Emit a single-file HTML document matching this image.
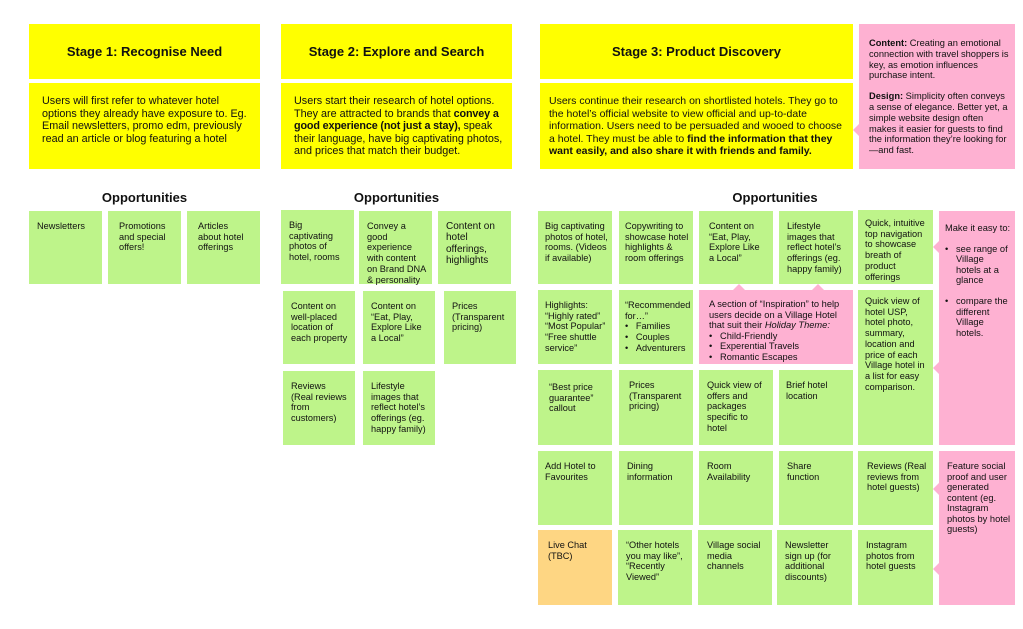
<!DOCTYPE html>
<html><head><meta charset="utf-8"><style>
body{margin:0;width:1023px;height:629px;background:#fff;position:relative;overflow:hidden;font-family:"Liberation Sans",Arial,sans-serif;color:#111}
.b{position:absolute;box-sizing:border-box}
.y{background:#ffff00}
.g{background:#bef48a;font-size:9.2px;line-height:10.7px;padding:10px 6px 0 8px}
.p{background:#feb1d2}
.o{background:#fed683;font-size:9.2px;line-height:10.7px;padding:10px 6px 0 8px}
.h{font-weight:bold;font-size:13px;display:flex;align-items:center;justify-content:center}
.d{font-size:10.8px;line-height:12.5px;padding:12px 10px 0 13px}
.op{position:absolute;font-weight:bold;font-size:13px;text-align:center}
ul{margin:0;padding:0 0 0 14px}
li{margin:0}
.tri{position:absolute;width:0;height:0;border-top:6px solid transparent;border-bottom:6px solid transparent;border-right:6px solid #feb1d2}
.triu{position:absolute;width:0;height:0;border-left:6px solid transparent;border-right:6px solid transparent;border-bottom:6px solid #feb1d2}
</style></head><body>
<!-- Stage 1 -->
<div class="b y h" style="left:29px;top:24px;width:231px;height:55px">Stage 1: Recognise Need</div>
<div class="b y d" style="left:29px;top:83px;width:231px;height:86px;padding-right:12px">Users will first refer to whatever hotel options they already have exposure to. Eg. Email newsletters, promo edm, previously read an article or blog featuring a hotel</div>
<div class="op" style="left:29px;top:190px;width:231px">Opportunities</div>
<div class="b g" style="left:29px;top:211px;width:73px;height:73px">Newsletters</div>
<div class="b g" style="left:108px;top:211px;width:73px;height:73px;padding-left:11px">Promotions and special offers!</div>
<div class="b g" style="left:187px;top:211px;width:73px;height:73px;padding-left:11px;padding-right:8px">Articles about hotel offerings</div>

<!-- Stage 2 -->
<div class="b y h" style="left:281px;top:24px;width:231px;height:55px">Stage 2: Explore and Search</div>
<div class="b y d" style="left:281px;top:83px;width:231px;height:86px;padding-right:8px">Users start their research of hotel options. They are attracted to brands that <b style="letter-spacing:-0.15px">convey a good experience (not just a stay),</b> speak their language, have big captivating photos, and prices that match their budget.</div>
<div class="op" style="left:281px;top:190px;width:231px">Opportunities</div>
<div class="b g" style="left:281px;top:210px;width:73px;height:74px">Big captivating photos of hotel, rooms</div>
<div class="b g" style="left:359px;top:211px;width:73px;height:73px;padding-right:5px">Convey a good experience with content on Brand DNA &amp; personality</div>
<div class="b g" style="left:438px;top:211px;width:73px;height:73px;font-size:10px;line-height:11.4px">Content on hotel offerings, highlights</div>
<div class="b g" style="left:283px;top:291px;width:72px;height:73px">Content on well-placed location of each property</div>
<div class="b g" style="left:363px;top:291px;width:72px;height:73px">Content on “Eat, Play, Explore Like a Local”</div>
<div class="b g" style="left:444px;top:291px;width:72px;height:73px">Prices (Transparent pricing)</div>
<div class="b g" style="left:283px;top:371px;width:72px;height:74px">Reviews (Real reviews from customers)</div>
<div class="b g" style="left:363px;top:371px;width:72px;height:74px">Lifestyle images that reflect hotel’s offerings (eg. happy family)</div>

<!-- Stage 3 -->
<div class="b y h" style="left:540px;top:24px;width:313px;height:55px">Stage 3: Product Discovery</div>
<div class="b y d" style="left:540px;top:83px;width:313px;height:86px;padding-left:9px;padding-right:4px;font-size:10.5px">Users continue their research on shortlisted hotels. They go to the hotel’s official website to view official and up-to-date information. Users need to be persuaded and wooed to choose a hotel. They must be able to <b>find the information that they want easily, and also share it with friends and family.</b></div>
<div class="b p" style="left:859px;top:24px;width:156px;height:145px;font-size:9.3px;line-height:10.8px;padding:14px 5px 0 10px">
<div><b>Content:</b> Creating an emotional connection with travel shoppers is key, as emotion influences purchase intent.</div>
<div style="margin-top:10px"><b>Design:</b> Simplicity often conveys a sense of elegance. Better yet, a simple website design often makes it easier for guests to find the information they’re looking for—and fast.</div></div>
<div class="tri" style="left:853px;top:124px"></div>
<div class="op" style="left:700px;top:190px;width:150px">Opportunities</div>

<div class="b g" style="left:538px;top:211px;width:74px;height:73px;padding-left:7px;padding-right:4px">Big captivating photos of hotel, rooms. (Videos if available)</div>
<div class="b g" style="left:619px;top:211px;width:74px;height:73px;padding-left:6px;padding-right:2px">Copywriting to showcase hotel highlights &amp; room offerings</div>
<div class="b g" style="left:699px;top:211px;width:74px;height:73px;padding-left:10px">Content on “Eat, Play, Explore Like a Local”</div>
<div class="b g" style="left:779px;top:211px;width:74px;height:73px">Lifestyle images that reflect hotel’s offerings (eg. happy family)</div>
<div class="b g" style="left:858px;top:210px;width:75px;height:74px;padding-top:8px;padding-left:7px">Quick, intuitive top navigation to showcase breath of product offerings</div>
<div class="b p" style="left:939px;top:211px;width:76px;height:234px;font-size:9.3px;line-height:10.6px;padding:12px 4px 0 6px">Make it easy to:
<ul style="margin-top:10px;padding-left:0;list-style:none"><li style="position:relative;padding-left:11px"><span style="position:absolute;left:0">•</span>see range of Village hotels at a glance</li><li style="position:relative;padding-left:11px;margin-top:10px"><span style="position:absolute;left:0">•</span>compare the different Village hotels.</li></ul></div>
<div class="tri" style="left:933px;top:241px"></div>

<div class="b g" style="left:538px;top:290px;width:74px;height:74px;padding-left:7px;padding-right:1px">Highlights:<br>“Highly rated”<br>“Most Popular”<br>“Free shuttle service”</div>
<div class="b g" style="left:619px;top:290px;width:74px;height:74px;padding-left:6px;padding-right:1px">“Recommended for…”<ul style="list-style:none;padding-left:0"><li>•&nbsp;&nbsp;&nbsp;Families</li><li>•&nbsp;&nbsp;&nbsp;Couples</li><li>•&nbsp;&nbsp;&nbsp;Adventurers</li></ul></div>
<div class="b p" style="left:699px;top:290px;width:154px;height:74px;font-size:9.3px;line-height:10.5px;padding:9px 10px 0 10px">A section of “Inspiration” to help users decide on a Village Hotel that suit their <i>Holiday Theme:</i><ul style="list-style:none;padding-left:0"><li>•&nbsp;&nbsp;&nbsp;Child-Friendly</li><li>•&nbsp;&nbsp;&nbsp;Experential Travels</li><li>•&nbsp;&nbsp;&nbsp;Romantic Escapes</li></ul></div>
<div class="triu" style="left:733px;top:284px"></div>
<div class="triu" style="left:812px;top:284px"></div>
<div class="b g" style="left:858px;top:290px;width:75px;height:155px;padding-top:6px;padding-left:7px">Quick view of hotel USP, hotel photo, summary, location and price of each Village hotel in a list for easy comparison.</div>
<div class="tri" style="left:933px;top:362px"></div>

<div class="b g" style="left:538px;top:370px;width:74px;height:75px;padding-left:11px;padding-top:12px">“Best price guarantee” callout</div>
<div class="b g" style="left:619px;top:370px;width:74px;height:75px;padding-left:10px">Prices (Transparent pricing)</div>
<div class="b g" style="left:699px;top:370px;width:74px;height:75px">Quick view of offers and packages specific to hotel</div>
<div class="b g" style="left:779px;top:370px;width:74px;height:75px;padding-left:7px">Brief hotel location</div>

<div class="b g" style="left:538px;top:451px;width:74px;height:74px;padding-left:7px">Add Hotel to Favourites</div>
<div class="b g" style="left:619px;top:451px;width:74px;height:74px;padding-left:8px">Dining information</div>
<div class="b g" style="left:699px;top:451px;width:74px;height:74px">Room Availability</div>
<div class="b g" style="left:779px;top:451px;width:74px;height:74px;padding-left:8px;padding-right:20px">Share function</div>
<div class="b g" style="left:858px;top:451px;width:75px;height:74px;padding-left:9px">Reviews (Real reviews from hotel guests)</div>
<div class="b p" style="left:939px;top:451px;width:76px;height:154px;font-size:9.3px;line-height:10.5px;padding:10px 4px 0 8px">Feature social proof and user generated content (eg. Instagram photos by hotel guests)</div>
<div class="tri" style="left:933px;top:483px"></div>
<div class="tri" style="left:933px;top:563px"></div>

<div class="b o" style="left:538px;top:530px;width:74px;height:75px;padding-left:10px">Live Chat (TBC)</div>
<div class="b g" style="left:618px;top:530px;width:74px;height:75px;padding-left:8px">“Other hotels you may like”, “Recently Viewed”</div>
<div class="b g" style="left:698px;top:530px;width:74px;height:75px;padding-left:9px">Village social media channels</div>
<div class="b g" style="left:777px;top:530px;width:75px;height:75px;padding-left:8px">Newsletter sign up (for additional discounts)</div>
<div class="b g" style="left:858px;top:530px;width:75px;height:75px">Instagram photos from hotel guests</div>
</body></html>
